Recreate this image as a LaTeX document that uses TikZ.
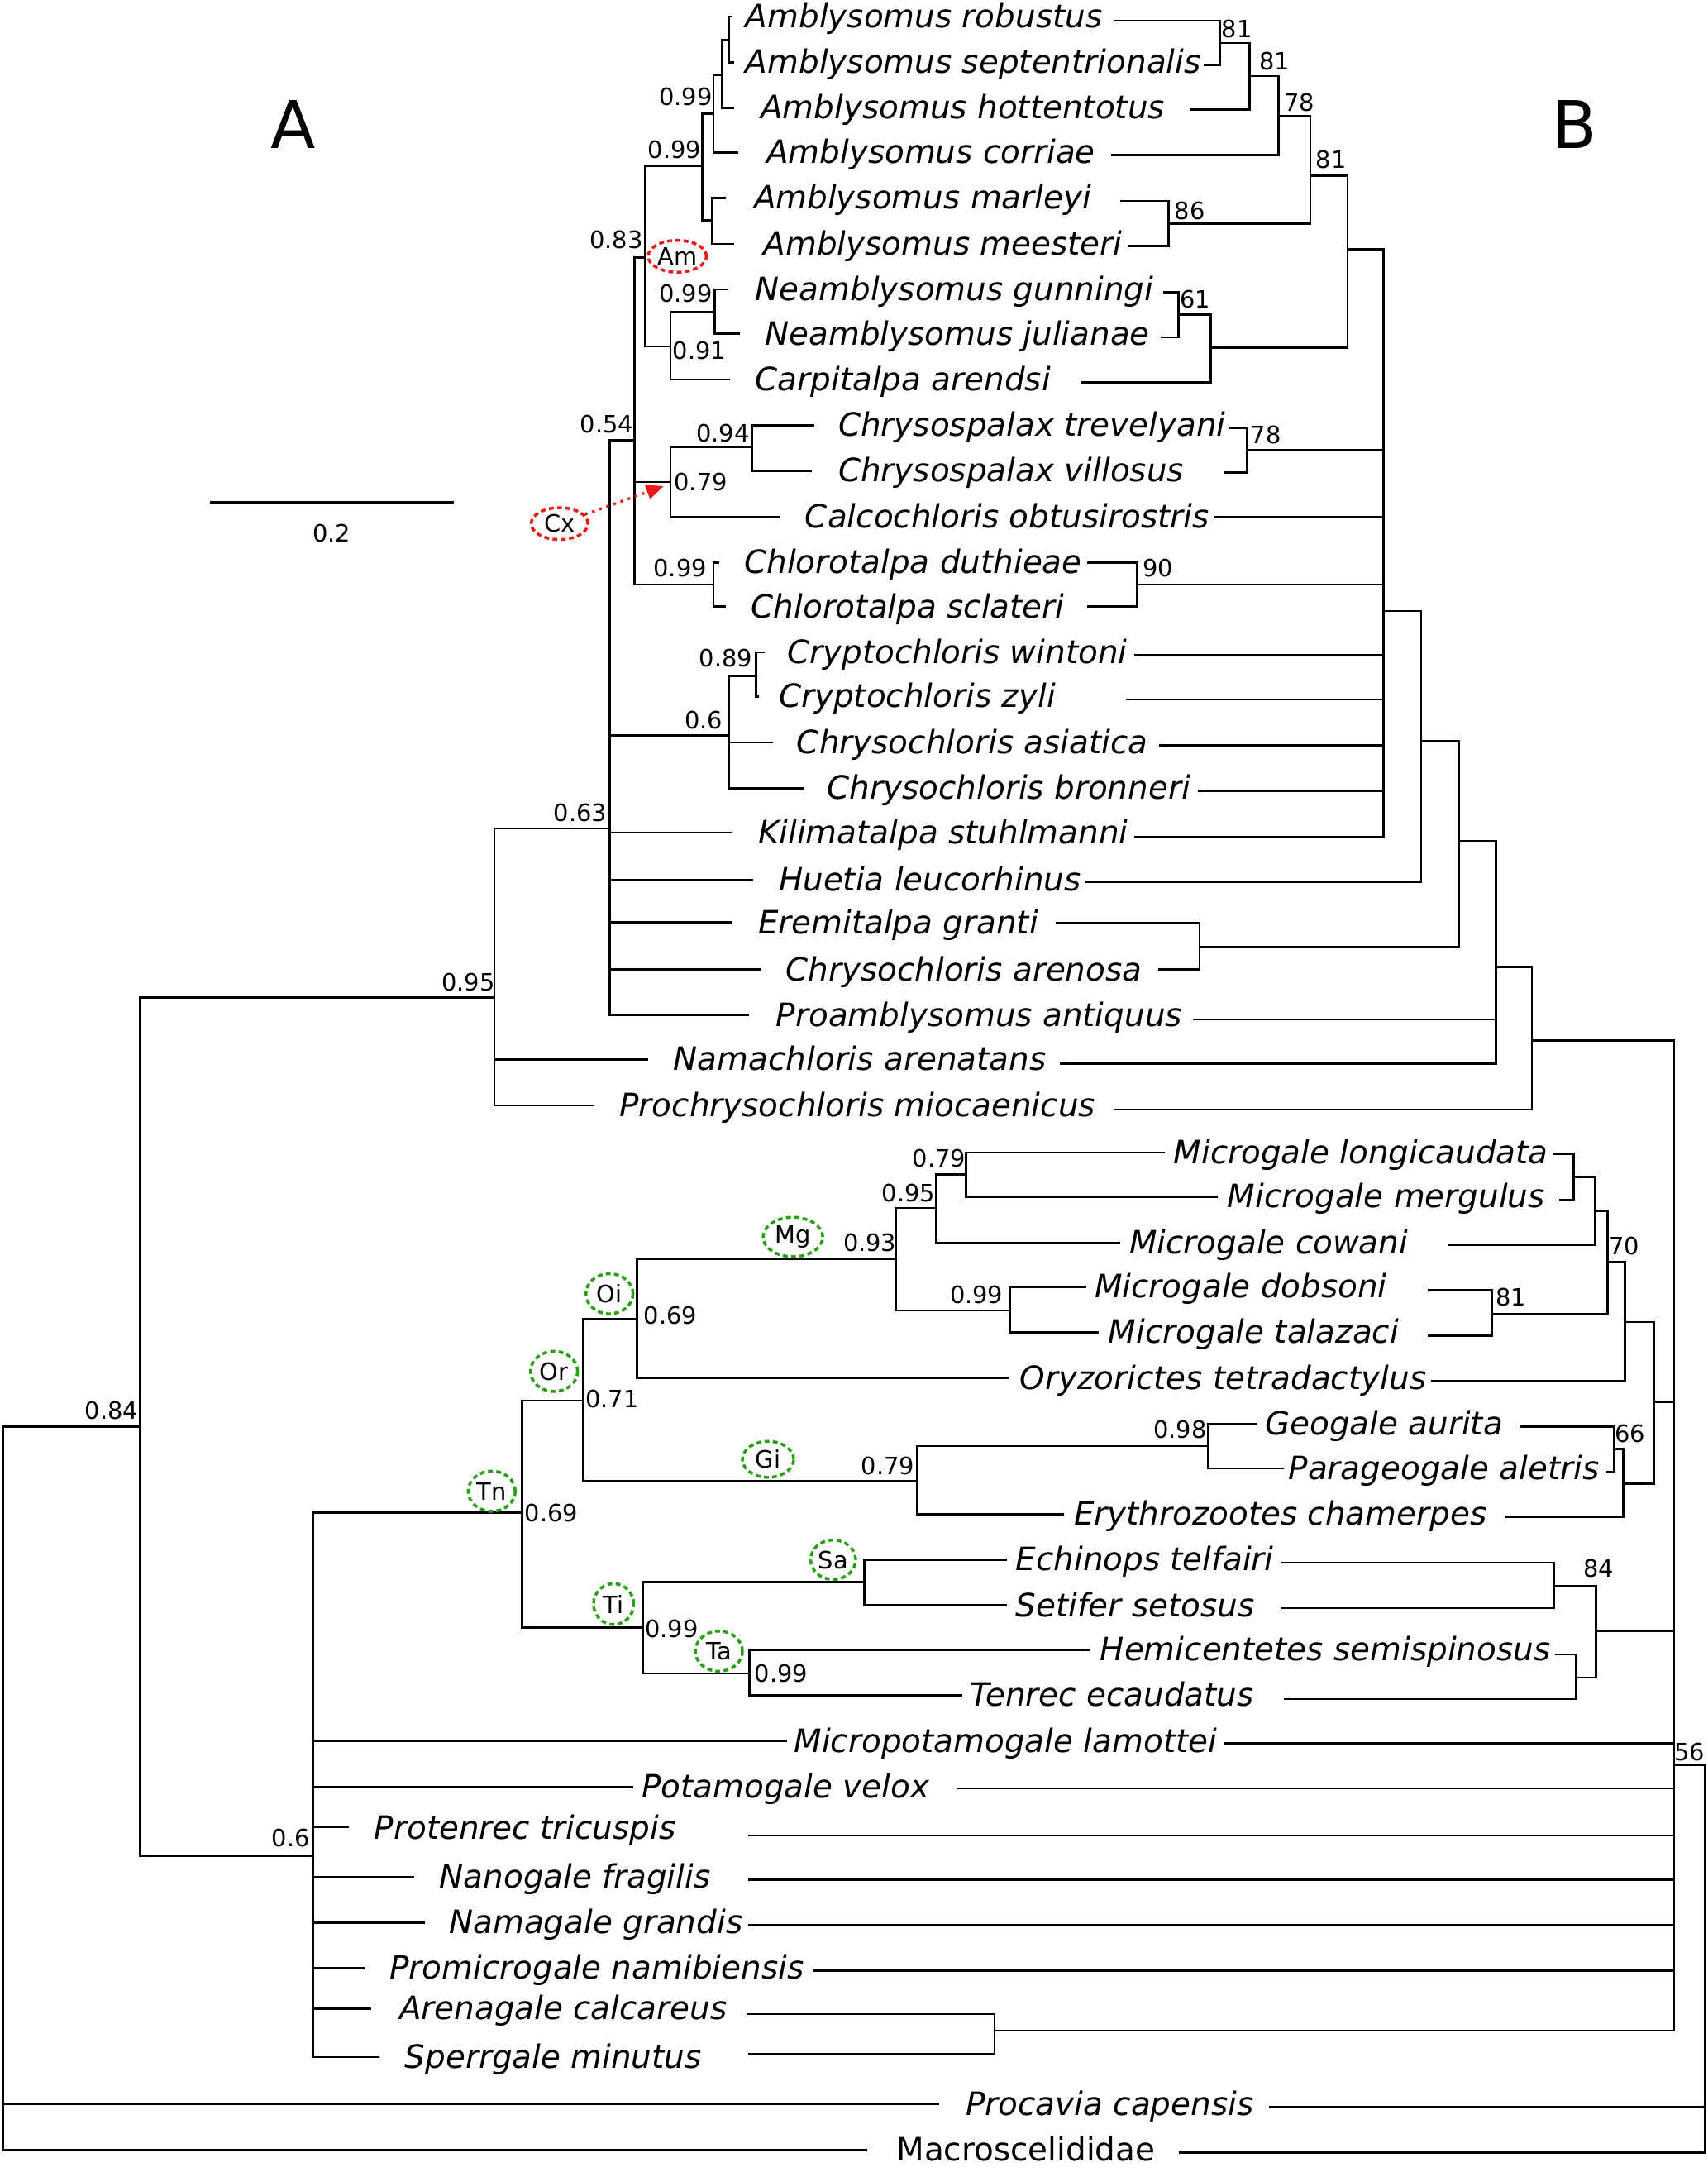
\documentclass[tikz,border=0pt]{standalone}
\usepackage{fontspec}
\setmainfont{DejaVu Sans}
\usetikzlibrary{shapes.geometric,arrows.meta}
\definecolor{cladegreen}{RGB}{40,160,20}
\definecolor{cladered}{RGB}{235,25,25}
\tikzset{
  branch/.style={line width=0.9pt},
  taxon/.style={anchor=west, inner sep=0pt, text height=10pt, text depth=1pt, font=\fontsize{13.2}{15}\selectfont\itshape},
  outgroup/.style={taxon, font=\fontsize{13.2}{15}\selectfont},
  support/.style={inner sep=0pt, font=\fontsize{9.8}{11}\selectfont},
  clade/.style={ellipse, draw=cladegreen, line width=1.2pt, dash pattern=on 2pt off 1.4pt, inner sep=0pt, font=\fontsize{9.8}{11}\selectfont, minimum width=6.8mm, minimum height=5.8mm},
  redclade/.style={clade, draw=cladered, minimum width=8.4mm, minimum height=4.6mm},
  panel/.style={font=\fontsize{27}{30}\selectfont}
}
\begin{document}
\begin{tikzpicture}[x=0.2mm, y=-0.2mm]
  \useasboundingbox (0,0) rectangle (1233,1568);

  % Panel letters and scale bar
  \node[panel] (labA) at (212,90) {A};
  \node[panel] (labB) at (1137,90) {B};
  \coordinate (bar0) at (151.6,362.6);
  \coordinate (bar1) at (327.4,362.6);
  \draw[branch] (bar0) -- (bar1);
  \node[support] (barlab) at (239.5,385) {0.2};

  % Taxa: name, left tip, right tip
  \node[taxon] (t1) at (538,12) {Amblysomus robustus}; \coordinate (l1) at (529,12); \coordinate (r1) at (804,15);
  \node[taxon] (t2) at (538,45) {Amblysomus septentrionalis}; \coordinate (l2) at (530,45); \coordinate (r2) at (869,47);
  \node[taxon] (t3) at (549,78) {Amblysomus hottentotus}; \coordinate (l3) at (530,78); \coordinate (r3) at (859,79);
  \node[taxon] (t4) at (553,110) {Amblysomus corriae}; \coordinate (l4) at (533,110); \coordinate (r4) at (802,112);
  \node[taxon] (t5) at (544,143) {Amblysomus marleyi}; \coordinate (l5) at (524,143); \coordinate (r5) at (809,145);
  \node[taxon] (t6) at (551,176) {Amblysomus meesteri}; \coordinate (l6) at (530,176); \coordinate (r6) at (815,177.5);
  \node[taxon] (t7) at (545,209) {Neamblysomus gunningi}; \coordinate (l7) at (526,209); \coordinate (r7) at (840,211);
  \node[taxon] (t8) at (552,241) {Neamblysomus julianae}; \coordinate (l8) at (534,241); \coordinate (r8) at (838,243.6);
  \node[taxon] (t9) at (545,274) {Carpitalpa arendsi}; \coordinate (l9) at (527,274); \coordinate (r9) at (781,276);
  \node[taxon] (t10) at (605,307) {Chrysospalax trevelyani}; \coordinate (l10) at (588,307); \coordinate (r10) at (887,309);
  \node[taxon] (t11) at (605,340) {Chrysospalax villosus}; \coordinate (l11) at (586,340); \coordinate (r11) at (884,341);
  \node[taxon] (t12) at (581,373) {Calcochloris obtusirostris}; \coordinate (l12) at (563,373); \coordinate (r12) at (877,373);
  \node[taxon] (t13) at (537,406) {Chlorotalpa duthieae}; \coordinate (l13) at (519,406); \coordinate (r13) at (785,406);
  \node[taxon] (t14) at (542,438) {Chlorotalpa sclateri}; \coordinate (l14) at (524,438); \coordinate (r14) at (785,438);
  \node[taxon] (t15) at (568,471) {Cryptochloris wintoni}; \coordinate (l15) at (552,471); \coordinate (r15) at (819,473);
  \node[taxon] (t16) at (562,503) {Cryptochloris zyli}; \coordinate (l16) at (548,503); \coordinate (r16) at (813,505);
  \node[taxon] (t17) at (575,536) {Chrysochloris asiatica}; \coordinate (l17) at (558,536); \coordinate (r17) at (837,538);
  \node[taxon] (t18) at (597,569) {Chrysochloris bronneri}; \coordinate (l18) at (580,569); \coordinate (r18) at (865,571);
  \node[taxon] (t19) at (547,601) {Kilimatalpa stuhlmanni}; \coordinate (l19) at (528,601); \coordinate (r19) at (819,604);
  \node[taxon] (t20) at (562,635) {Huetia leucorhinus}; \coordinate (l20) at (544,635); \coordinate (r20) at (783,636.5);
  \node[taxon] (t21) at (547,666) {Eremitalpa granti}; \coordinate (l21) at (529,666); \coordinate (r21) at (762,666.4);
  \node[taxon] (t22) at (567,700) {Chrysochloris arenosa}; \coordinate (l22) at (550,700); \coordinate (r22) at (836,700);
  \node[taxon] (t23) at (560,733) {Proamblysomus antiquus}; \coordinate (l23) at (541,733); \coordinate (r23) at (861,736);
  \node[taxon] (t24) at (486,765) {Namachloris arenatans}; \coordinate (l24) at (468,765); \coordinate (r24) at (765,768);
  \node[taxon] (t25) at (447,798) {Prochrysochloris miocaenicus}; \coordinate (l25) at (429,798); \coordinate (r25) at (804,801);
  \node[taxon] (t26) at (847,832) {Microgale longicaudata}; \coordinate (l26) at (841,832); \coordinate (r26) at (1121,833);
  \node[taxon] (t27) at (886,864) {Microgale mergulus}; \coordinate (l27) at (879,864); \coordinate (r27) at (1125.5,866);
  \node[taxon] (t28) at (815,897) {Microgale cowani}; \coordinate (l28) at (809,897); \coordinate (r28) at (1046,898.6);
  \node[taxon] (t29) at (790,929) {Microgale dobsoni}; \coordinate (l29) at (784,929); \coordinate (r29) at (1031,931.5);
  \node[taxon] (t30) at (800,962) {Microgale talazaci}; \coordinate (l30) at (793,962); \coordinate (r30) at (1031,964.3);
  \node[taxon] (t31) at (736,995) {Oryzorictes tetradactylus}; \coordinate (l31) at (729,995); \coordinate (r31) at (1033,997);
  \node[taxon] (t32) at (913,1028) {Geogale aurita}; \coordinate (l32) at (908,1028); \coordinate (r32) at (1097.6,1030);
  \node[taxon] (t33) at (930,1060) {Parageogale aletris}; \coordinate (l33) at (927,1060); \coordinate (r33) at (1160,1062.4);
  \node[taxon] (t34) at (775,1093) {Erythrozootes chamerpes}; \coordinate (l34) at (768,1093); \coordinate (r34) at (1087,1095);
  \node[taxon] (t35) at (733,1126) {Echinops telfairi}; \coordinate (l35) at (727,1126); \coordinate (r35) at (925,1128);
  \node[taxon] (t36) at (733,1159) {Setifer setosus}; \coordinate (l36) at (727,1159); \coordinate (r36) at (925,1161);
  \node[taxon] (t37) at (794,1191) {Hemicentetes semispinosus}; \coordinate (l37) at (787,1191); \coordinate (r37) at (1123,1194.4);
  \node[taxon] (t38) at (700,1224) {Tenrec ecaudatus}; \coordinate (l38) at (695,1224); \coordinate (r38) at (927,1226.5);
  \node[taxon] (t39) at (573,1257) {Micropotamogale lamottei}; \coordinate (l39) at (568,1257); \coordinate (r39) at (883.5,1258.5);
  \node[taxon] (t40) at (463,1290) {Potamogale velox}; \coordinate (l40) at (457,1290); \coordinate (r40) at (691,1291);
  \node[taxon] (t41) at (270,1320) {Protenrec tricuspis}; \coordinate (l41) at (252,1319); \coordinate (r41) at (540,1325);
  \node[taxon] (t42) at (317,1355) {Nanogale fragilis}; \coordinate (l42) at (299,1355); \coordinate (r42) at (540,1357);
  \node[taxon] (t43) at (324,1388) {Namagale grandis}; \coordinate (l43) at (307,1388); \coordinate (r43) at (540,1390);
  \node[taxon] (t44) at (281,1421) {Promicrogale namibiensis}; \coordinate (l44) at (263,1421); \coordinate (r44) at (587,1422.6);
  \node[taxon] (t45) at (288,1450) {Arenagale calcareus}; \coordinate (l45) at (268,1450); \coordinate (r45) at (539,1454);
  \node[taxon] (t46) at (292,1485) {Sperrgale minutus}; \coordinate (l46) at (274,1485); \coordinate (r46) at (540,1483);
  \node[taxon] (t47) at (697,1519) {Procavia capensis}; \coordinate (l47) at (678,1519); \coordinate (r47) at (916,1521);
  \node[outgroup] (t48) at (647,1552) {Macroscelididae}; \coordinate (l48) at (626,1552); \coordinate (r48) at (851,1554);

  % Tree A (posterior probabilities)
  \coordinate (Aroot) at (2,1030);
  \coordinate (A084) at (101,1030);
  \coordinate (A095) at (357,720);
  \coordinate (A063) at (440,598);
  \coordinate (A054) at (458,318);
  \coordinate (A083) at (466,186);
  \coordinate (A099a) at (507,120);
  \coordinate (A099b) at (515,82);
  \coordinate (Arob) at (521,54);
  \coordinate (Asep) at (526,29);
  \coordinate (Amar) at (514,159);
  \coordinate (A091) at (484,250);
  \coordinate (Anea) at (516,225);
  \coordinate (A079) at (484,348);
  \coordinate (A094) at (543,323);
  \coordinate (Achl) at (515,422);
  \coordinate (A06c) at (526,531);
  \coordinate (A089) at (546,488);
  \coordinate (A06t) at (226,1340);
  \coordinate (ATn) at (377,1092);
  \coordinate (AOr) at (421,1011);
  \coordinate (AOi) at (460,952);
  \coordinate (AMg) at (647,909);
  \coordinate (A095m) at (676,872);
  \coordinate (A079m) at (697.5,848);
  \coordinate (A099m) at (729,946);
  \coordinate (AGi) at (662,1069);
  \coordinate (A098) at (872,1044);
  \coordinate (ATi) at (464,1175);
  \coordinate (ASa) at (624,1142);
  \coordinate (ATa) at (541,1208);

  \draw[branch] (Aroot) |- (A084) (Aroot) |- (l47) (Aroot) |- (l48);
  \draw[branch] (A084) |- (A095) (A084) |- (A06t);
  \draw[branch] (A095) |- (A063) (A095) |- (l24) (A095) |- (l25);
  \draw[branch] (A063) |- (A054) (A063) |- (A06c) (A063) |- (l19) (A063) |- (l20)
    (A063) |- (l21) (A063) |- (l22) (A063) |- (l23);
  \draw[branch] (A054) |- (A083) (A054) |- (A079) (A054) |- (Achl);
  \draw[branch] (A083) |- (A099a) (A083) |- (A091);
  \draw[branch] (A099a) |- (A099b) (A099a) |- (Amar);
  \draw[branch] (A099b) |- (Arob) (A099b) |- (l4);
  \draw[branch] (Arob) |- (Asep) (Arob) |- (l3);
  \draw[branch] (Asep) |- (l1) (Asep) |- (l2);
  \draw[branch] (Amar) |- (l5) (Amar) |- (l6);
  \draw[branch] (A091) |- (Anea) (A091) |- (l9);
  \draw[branch] (Anea) |- (l7) (Anea) |- (l8);
  \draw[branch] (A079) |- (A094) (A079) |- (l12);
  \draw[branch] (A094) |- (l10) (A094) |- (l11);
  \draw[branch] (Achl) |- (l13) (Achl) |- (l14);
  \draw[branch] (A06c) |- (A089) (A06c) |- (l17) (A06c) |- (l18);
  \draw[branch] (A089) |- (l15) (A089) |- (l16);
  \draw[branch] (A06t) |- (ATn) (A06t) |- (l39) (A06t) |- (l40) (A06t) |- (l41)
    (A06t) |- (l42) (A06t) |- (l43) (A06t) |- (l44) (A06t) |- (l45) (A06t) |- (l46);
  \draw[branch] (ATn) |- (AOr) (ATn) |- (ATi);
  \draw[branch] (AOr) |- (AOi) (AOr) |- (AGi);
  \draw[branch] (AOi) |- (AMg) (AOi) |- (l31);
  \draw[branch] (AMg) |- (A095m) (AMg) |- (A099m);
  \draw[branch] (A095m) |- (A079m) (A095m) |- (l28);
  \draw[branch] (A079m) |- (l26) (A079m) |- (l27);
  \draw[branch] (A099m) |- (l29) (A099m) |- (l30);
  \draw[branch] (AGi) |- (A098) (AGi) |- (l34);
  \draw[branch] (A098) |- (l32) (A098) |- (l33);
  \draw[branch] (ATi) |- (ASa) (ATi) |- (ATa);
  \draw[branch] (ASa) |- (l35) (ASa) |- (l36);
  \draw[branch] (ATa) |- (l37) (ATa) |- (l38);

  % Posterior probabilities
  \node[support] (p1) at (495,70) {0.99};
  \node[support] (p2) at (487,108) {0.99};
  \node[support] (p3) at (445,173) {0.83};
  \node[support] (p4) at (495,212) {0.99};
  \node[support] (p5) at (505,253) {0.91};
  \node[support] (p6) at (438,306) {0.54};
  \node[support] (p7) at (522,313) {0.94};
  \node[support] (p8) at (506,348) {0.79};
  \node[support] (p9) at (491,410) {0.99};
  \node[support] (p10) at (524,475) {0.89};
  \node[support] (p11) at (508,520) {0.6};
  \node[support] (p12) at (419,587) {0.63};
  \node[support] (p13) at (338,709) {0.95};
  \node[support] (p14) at (80.5,1018) {0.84};
  \node[support] (p15) at (678,836) {0.79};
  \node[support] (p16) at (656,861) {0.95};
  \node[support] (p17) at (628,897) {0.93};
  \node[support] (p18) at (705,934.5) {0.99};
  \node[support] (p19) at (484,949.5) {0.69};
  \node[support] (p20) at (442,1010) {0.71};
  \node[support] (p21) at (852,1032) {0.98};
  \node[support] (p22) at (641,1058) {0.79};
  \node[support] (p23) at (398,1092) {0.69};
  \node[support] (p24) at (485,1176) {0.99};
  \node[support] (p25) at (564,1208) {0.99};
  \node[support] (p26) at (210,1327) {0.6};

  % Clade tags
  \node[redclade] (Am) at (489,185) {Am};
  \node[redclade, minimum width=8.2mm] (Cx) at (404,378) {Cx};
  \coordinate (cxtip) at (479,351);
  \draw[cladered, line width=1.1pt, dotted, -{Triangle[length=7pt,width=6pt]}] (Cx) -- (cxtip);
  \node[clade, minimum width=8.6mm, minimum height=5.7mm] (Mg) at (572.5,893) {Mg};
  \node[clade] (Oi) at (440,934) {Oi};
  \node[clade] (Or) at (400,990) {Or};
  \node[clade] (Tn) at (355,1076.5) {Tn};
  \node[clade, minimum width=7.4mm, minimum height=5.2mm] (Gi) at (554.5,1053.5) {Gi};
  \node[clade, minimum width=6.5mm, minimum height=5.7mm] (Sa) at (601.5,1126) {Sa};
  \node[clade, minimum width=5.8mm, minimum height=5.9mm] (Ti) at (443,1158) {Ti};
  \node[clade] (Ta) at (519,1192) {Ta};

  % Tree B (bootstrap)
  \coordinate (B81a) at (881,31);
  \coordinate (B81b) at (902,55);
  \coordinate (B78a) at (923,84);
  \coordinate (B86) at (843.5,161.5);
  \coordinate (B81c) at (946,127);
  \coordinate (B61) at (851,227);
  \coordinate (Bcar) at (874,251);
  \coordinate (BAm) at (973,180);
  \coordinate (B78b) at (900,325);
  \coordinate (B90) at (821,422);
  \coordinate (Bpoly) at (999,441);
  \coordinate (Bhue) at (1026,535);
  \coordinate (Bere) at (866,683.5);
  \coordinate (Bare) at (1053,607);
  \coordinate (Bpro) at (1080,698);
  \coordinate (Bchr) at (1106,751);
  \coordinate (Bmg1) at (1136,849.5);
  \coordinate (Bmg2) at (1151.5,874.3);
  \coordinate (B81d) at (1077,948.4);
  \coordinate (Bmg3) at (1160.7,911.2);
  \coordinate (B70) at (1173,954.3);
  \coordinate (B66) at (1165.3,1046);
  \coordinate (Bgeo) at (1172,1071);
  \coordinate (Bory) at (1194.2,1012);
  \coordinate (B84) at (1122,1145);
  \coordinate (Bhem) at (1138,1211);
  \coordinate (Bten) at (1152.4,1177.5);
  \coordinate (Bmain) at (1208.7,1274);
  \coordinate (Bsper) at (718,1466);
  \coordinate (B56) at (1231,1274);

  \draw[branch] (B81a) |- (r1) (B81a) |- (r2);
  \draw[branch] (B81b) |- (B81a) (B81b) |- (r3);
  \draw[branch] (B78a) |- (B81b) (B78a) |- (r4);
  \draw[branch] (B86) |- (r5) (B86) |- (r6);
  \draw[branch] (B81c) |- (B78a) (B81c) |- (B86);
  \draw[branch] (B61) |- (r7) (B61) |- (r8);
  \draw[branch] (Bcar) |- (B61) (Bcar) |- (r9);
  \draw[branch] (BAm) |- (B81c) (BAm) |- (Bcar);
  \draw[branch] (B78b) |- (r10) (B78b) |- (r11);
  \draw[branch] (B90) |- (r13) (B90) |- (r14);
  \draw[branch] (Bpoly) |- (BAm) (Bpoly) |- (B78b) (Bpoly) |- (r12) (Bpoly) |- (B90)
    (Bpoly) |- (r15) (Bpoly) |- (r16) (Bpoly) |- (r17) (Bpoly) |- (r18) (Bpoly) |- (r19);
  \draw[branch] (Bhue) |- (Bpoly) (Bhue) |- (r20);
  \draw[branch] (Bere) |- (r21) (Bere) |- (r22);
  \draw[branch] (Bare) |- (Bhue) (Bare) |- (Bere);
  \draw[branch] (Bpro) |- (Bare) (Bpro) |- (r23) (Bpro) |- (r24);
  \draw[branch] (Bchr) |- (Bpro) (Bchr) |- (r25);
  \draw[branch] (Bmg1) |- (r26) (Bmg1) |- (r27);
  \draw[branch] (Bmg2) |- (Bmg1) (Bmg2) |- (r28);
  \draw[branch] (B81d) |- (r29) (B81d) |- (r30);
  \draw[branch] (Bmg3) |- (Bmg2) (Bmg3) |- (B81d);
  \draw[branch] (B70) |- (Bmg3) (B70) |- (r31);
  \draw[branch] (B66) |- (r32) (B66) |- (r33);
  \draw[branch] (Bgeo) |- (B66) (Bgeo) |- (r34);
  \draw[branch] (Bory) |- (B70) (Bory) |- (Bgeo);
  \draw[branch] (B84) |- (r35) (B84) |- (r36);
  \draw[branch] (Bhem) |- (r37) (Bhem) |- (r38);
  \draw[branch] (Bten) |- (B84) (Bten) |- (Bhem);
  \draw[branch] (Bsper) |- (r45) (Bsper) |- (r46);
  \draw[branch] (Bmain) |- (Bchr) (Bmain) |- (Bory) (Bmain) |- (Bten) (Bmain) |- (r39)
    (Bmain) |- (r40) (Bmain) |- (r41) (Bmain) |- (r42) (Bmain) |- (r43) (Bmain) |- (r44)
    (Bmain) |- (Bsper);
  \draw[branch] (B56) |- (Bmain) (B56) |- (r47) (B56) |- (r48);

  % Bootstrap values
  \node[support] (b1) at (893,21) {81};
  \node[support] (b2) at (920,44) {81};
  \node[support] (b3) at (938,74) {78};
  \node[support] (b4) at (961,115) {81};
  \node[support] (b5) at (859,152) {86};
  \node[support] (b6) at (863,216) {61};
  \node[support] (b7) at (914,314) {78};
  \node[support] (b8) at (836,410) {90};
  \node[support] (b9) at (1172.5,899.5) {70};
  \node[support] (b10) at (1091,936.5) {81};
  \node[support] (b11) at (1177,1035) {66};
  \node[support] (b12) at (1154,1132.5) {84};
  \node[support] (b13) at (1220,1265) {56};
\end{tikzpicture}
\end{document}
